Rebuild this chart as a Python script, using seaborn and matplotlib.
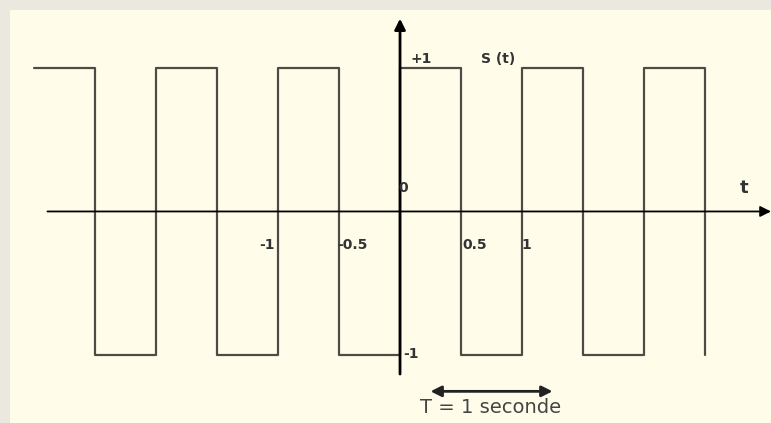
import matplotlib
matplotlib.use("Agg")
import matplotlib.pyplot as plt
import seaborn as sns
import pandas as pd

# Square wave S(t): level switches every half period (T = 1 s)
t_edges = [-3.0, -2.5, -2.0, -1.5, -1.0, -0.5, 0.0, 0.5, 1.0, 1.5, 2.0, 2.5]
s_level = [1, -1, 1, -1, 1, -1, 1, -1, 1, -1, 1, -1]

# Labels on the time axis
xtick_vals = [-1, -0.5, 0.5, 1]
xtick_text = ["-1", "-0.5", "0.5", "1"]

# Period marker
period_start = 0.25
period_end = 1.25
period_text = "T = 1 seconde"

df = pd.DataFrame({"t": t_edges, "s": s_level})

sns.set_theme(style="white")
plt.rcParams["font.family"] = ["DejaVu Sans"]

fig = plt.figure(figsize=(7.71, 4.23), dpi=100)
fig.patch.set_facecolor("#ebe8df")
ax = fig.add_axes([10 / 771, 0, 761 / 771, 413 / 423])
ax.set_facecolor("#fffdea")

sns.lineplot(data=df, x="t", y="s", ax=ax, estimator=None, sort=False,
             drawstyle="steps-post", color="#4f4a45", linewidth=1.6)

ax.set_xlim(-3.197, 3.041)
ax.set_ylim(-1.47, 1.40)
ax.set_xticks([])
ax.set_yticks([])
ax.set_xlabel("")
ax.set_ylabel("")
for sp in ax.spines.values():
    sp.set_visible(False)

# axes with arrows
ax.annotate("", xy=(3.041, 0), xytext=(-2.89, 0), annotation_clip=False,
            arrowprops=dict(arrowstyle="-|>", color="black", lw=1.3,
                            mutation_scale=16, shrinkA=0, shrinkB=0))
ax.annotate("", xy=(0, 1.34), xytext=(0, -1.13), annotation_clip=False,
            arrowprops=dict(arrowstyle="-|>", color="black", lw=2,
                            mutation_scale=16, shrinkA=0, shrinkB=0))

lab = dict(fontsize=10, fontweight="bold", color="#333333")
xoff = [-8, 10, 10, 3]
for v, s, dx in zip(xtick_vals, xtick_text, xoff):
    ax.annotate(s, xy=(v, -0.23), xytext=(dx, 0), textcoords="offset points",
                ha="center", va="center", **lab)

ax.text(0.09, 1.06, "+1", ha="left", va="center", **lab)
ax.text(0.66, 1.06, "S (t)", ha="left", va="center", **lab)
ax.text(-0.01, 0.16, "0", ha="left", va="center", **lab)
ax.text(0.03, -0.99, "-1", ha="left", va="center", **lab)
ax.text(2.82, 0.16, "t", ha="center", va="center", fontsize=13,
        fontweight="bold", color="#333333")

ax.annotate("", xy=(period_end, -1.25), xytext=(period_start, -1.25),
            arrowprops=dict(arrowstyle="<|-|>", color="#222222", lw=2,
                            mutation_scale=16, shrinkA=0, shrinkB=0))
ax.text((period_start + period_end) / 2 - 0.01, -1.36, period_text,
        ha="center", va="center", fontsize=14, color="#444444")

fig.savefig("out.png", dpi=100, facecolor=fig.get_facecolor())
